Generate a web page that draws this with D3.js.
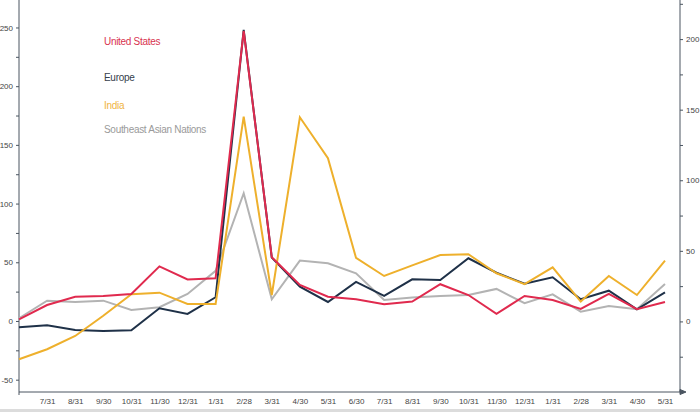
<!DOCTYPE html>
<html>
<head>
<meta charset="utf-8">
<script src="https://cdn.jsdelivr.net/npm/d3@7"></script>
<style>
  body { margin: 0; background: #fff; }
  svg { display: block; font-family: "Liberation Sans", Arial, sans-serif; }
  .axis path, .axis line { stroke: #4a5560; }
  .axis text { fill: #444; font-size: 8px; }
</style>
</head>
<body>
<svg id="chart" width="700" height="412"></svg>
<script>
// month-end dates, first point (6/30) is unlabeled
const dates = ['6/30', '7/31', '8/31', '9/30', '10/31', '11/30', '12/31', '1/31', '2/28', '3/31', '4/30', '5/31',
               '6/30b', '7/31b', '8/31b', '9/30b', '10/31b', '11/30b', '12/31b', '1/31b', '2/28b', '3/31b', '4/30b', '5/31b'];

const usValues = [1.4, 13.6, 20.7, 21.3, 23, 46.5, 35.3, 36.4, 247, 54.3, 30.7, 20.7,
                  18.5, 14.2, 16.5, 31.3, 22.1, 6, 21.3, 17.9, 10.2, 23, 10, 16.2];
const europeValues = [-5.4, -3.7, -7.7, -8.5, -8, 10.8, 6, 20.2, 248, 54, 29.2, 16.2,
                      33.3, 21.3, 35.5, 34.9, 53.4, 41.1, 31.7, 37.2, 18.5, 25.8, 10, 24.4];
const indiaValues = [-32.6, -24.1, -12.8, 4.5, 22.7, 24.1, 14.5, 14.5, 174, 22.1, 173.5, 138.6,
                     53.7, 38.3, 47.4, 56.2, 56.8, 40.6, 31.4, 45.7, 16.5, 38.3, 22.1, 51.4];
const seaValues = [2.3, 17.3, 16.2, 17.3, 9.4, 11.7, 23, 42.7, 108.8, 18.5, 51.4, 49.1,
                   40.6, 17.9, 19.9, 21.3, 22.1, 27.3, 15.1, 22.7, 7.9, 12.8, 10, 31.5];

const seriesNames = ['Southeast Asian Nations', 'Europe', 'India', 'United States'];
const leftTicks = [-50, 0, 50, 100, 150, 200, 250];
const rightTicks = [0, 50, 100, 150, 200];

const colors = {
  'United States': '#e02a4e',
  'Europe': '#1f3148',
  'India': '#eeb02c',
  'Southeast Asian Nations': '#b3b3b3'
};
const textColors = {
  'United States': '#d8334f',
  'Europe': '#35404c',
  'India': '#efb443',
  'Southeast Asian Nations': '#9a9a9a'
};

const valuesByName = {
  'United States': usValues,
  'Europe': europeValues,
  'India': indiaValues,
  'Southeast Asian Nations': seaValues
};

const svg = d3.select('#chart');

const x = d3.scalePoint().domain(dates).range([19, 665]);
const yLeft = d3.scaleLinear().domain([-60.5, 273.4]).range([392, 0]);
const yRight = d3.scaleLinear().domain([-50, 227.7]).range([392, 0]);

// bottom gray strip
svg.append('rect').attr('x', 0).attr('y', 409).attr('width', 700).attr('height', 3).attr('fill', '#dcdcdc');

// left axis, major + minor ticks
svg.append('g').attr('class', 'axis')
    .attr('transform', 'translate(19,0)')
    .call(d3.axisLeft(yLeft).tickValues(d3.range(-50, 275, 25)).tickSize(3)
      .tickFormat(d => leftTicks.includes(d) ? d : ''))
    .call(g => g.select('.domain').attr('d', 'M0,0V392'));

// right axis
svg.append('g').attr('class', 'axis')
    .attr('transform', 'translate(680,0)')
    .call(d3.axisRight(yRight).tickValues(d3.range(-50, 230, 25)).tickSize(3)
      .tickFormat(d => rightTicks.includes(d) ? d : ''))
    .call(g => g.select('.domain').attr('d', 'M0,0V392'));

// bottom axis
const xAxis = svg.append('g').attr('class', 'axis')
    .attr('transform', 'translate(0,392)')
    .call(d3.axisBottom(x).tickValues(dates.slice(1)).tickSize(0).tickPadding(6)
      .tickFormat(d => d.replace('b', '')))
    .call(g => g.select('.domain').attr('d', 'M19,0H684'));
xAxis.append('path').attr('d', 'M680,-2.5L686,0L680,2.5Z').attr('fill', '#4a5560');
xAxis.append('line').attr('x1', 19).attr('x2', 19).attr('y1', 0).attr('y2', 3).attr('stroke', '#4a5560');

// lines
const line = d3.line()
    .x((d, i) => x(dates[i]))
    .y(d => yLeft(d));

svg.append('g').selectAll('path.series')
  .data(seriesNames)
  .join('path')
    .attr('class', 'series')
    .attr('d', name => line(valuesByName[name]))
    .attr('fill', 'none')
    .attr('stroke', name => colors[name])
    .attr('stroke-width', 2)
    .attr('stroke-linejoin', 'miter');

// legend
const legendY = {'United States': 45, 'Europe': 81, 'India': 109, 'Southeast Asian Nations': 133};
svg.append('g').selectAll('text')
  .data(['United States', 'Europe', 'India', 'Southeast Asian Nations'])
  .join('text')
    .attr('x', 104)
    .attr('y', d => legendY[d])
    .attr('fill', d => textColors[d])
    .style('font-size', '10px')
    .style('letter-spacing', '-0.3px')
    .text(d => d);
</script>
</body>
</html>
